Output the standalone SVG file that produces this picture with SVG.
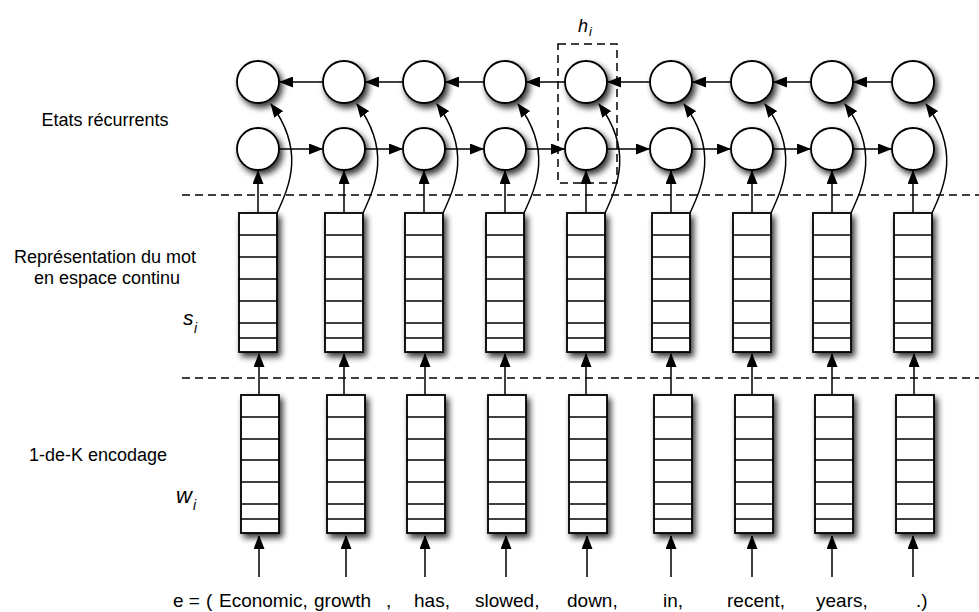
<svg xmlns="http://www.w3.org/2000/svg" xmlns:xlink="http://www.w3.org/1999/xlink" width="979" height="612" viewBox="0 0 979 612">
<style>
  .st { fill:#fff; stroke:#000; stroke-width:1.8; }
  .cell { fill:none; stroke:#000; stroke-width:1.5; }
  .ar { fill:none; stroke:#000; stroke-width:1.5; marker-end:url(#ah); }
  .dash { fill:none; stroke:#000; stroke-width:1.5; stroke-dasharray:8 5; }
  .lbl { font-family:"Liberation Sans", Arial, sans-serif; font-size:18px; fill:#000; }
  .it { font-family:"Liberation Sans", Arial, sans-serif; font-style:italic; fill:#000; }
  .words { font-family:"Liberation Sans", Arial, sans-serif; font-size:19px; fill:#000; }
</style>
<defs>
  <filter id="sh" x="-40%" y="-40%" width="180%" height="180%">
    <feGaussianBlur in="SourceAlpha" stdDeviation="3.2"/>
    <feOffset dx="3" dy="4" result="b"/>
    <feComponentTransfer in="b" result="s"><feFuncA type="linear" slope="0.8"/></feComponentTransfer>
    <feMerge><feMergeNode in="s"/><feMergeNode in="SourceGraphic"/></feMerge>
  </filter>
  <marker id="ah" viewBox="0 0 14 11" refX="13" refY="5.5" markerWidth="14" markerHeight="11" markerUnits="userSpaceOnUse" orient="auto">
    <path d="M0,0L14,5.5L0,11z" fill="#000"/>
  </marker>
  <g id="vecU">
    <rect class="st" x="-19" y="213" width="38" height="139"/>
    <path class="cell" d="M-19,235h38M-19,257h38M-19,279h38M-19,301h38M-19,323h38M-19,338h38"/>
  </g>
  <g id="vecL">
    <rect class="st" x="-17" y="395" width="38" height="138"/>
    <path class="cell" d="M-17,417h38M-17,439h38M-17,460h38M-17,482h38M-17,504h38M-17,519h38"/>
  </g>
  <circle id="node" class="st" r="21"/>
</defs>
<rect width="979" height="612" fill="#fff"/>

<g id="separators">
  <path class="dash" d="M182,195H979"/>
  <path class="dash" d="M182,378H979"/>
</g>

<g id="labels">
  <text class="lbl" x="105" y="126" text-anchor="middle">Etats récurrents</text>
  <text class="lbl" x="105" y="263" text-anchor="middle">Représentation du mot</text>
  <text class="lbl" x="107" y="284" text-anchor="middle">en espace continu</text>
  <text class="lbl" x="98" y="461" text-anchor="middle">1-de-K encodage</text>
  <text class="it" x="183" y="325" font-size="21">s<tspan x="194" y="333" font-size="14">i</tspan></text>
  <text class="it" x="176" y="503" font-size="22">w<tspan x="193" y="510" font-size="14">i</tspan></text>
  <text class="it" x="578" y="32" font-size="18">h<tspan x="589" y="36" font-size="13">i</tspan></text>
</g>

<g id="w1" filter="url(#sh)"><use xlink:href="#vecL" x="258"/></g>
<g id="w2" filter="url(#sh)"><use xlink:href="#vecL" x="344"/></g>
<g id="w3" filter="url(#sh)"><use xlink:href="#vecL" x="424"/></g>
<g id="w4" filter="url(#sh)"><use xlink:href="#vecL" x="505"/></g>
<g id="w5" filter="url(#sh)"><use xlink:href="#vecL" x="586"/></g>
<g id="w6" filter="url(#sh)"><use xlink:href="#vecL" x="671"/></g>
<g id="w7" filter="url(#sh)"><use xlink:href="#vecL" x="752"/></g>
<g id="w8" filter="url(#sh)"><use xlink:href="#vecL" x="832"/></g>
<g id="w9" filter="url(#sh)"><use xlink:href="#vecL" x="913"/></g>

<g id="s1" filter="url(#sh)"><use xlink:href="#vecU" x="258"/></g>
<g id="s2" filter="url(#sh)"><use xlink:href="#vecU" x="344"/></g>
<g id="s3" filter="url(#sh)"><use xlink:href="#vecU" x="424"/></g>
<g id="s4" filter="url(#sh)"><use xlink:href="#vecU" x="505"/></g>
<g id="s5" filter="url(#sh)"><use xlink:href="#vecU" x="586"/></g>
<g id="s6" filter="url(#sh)"><use xlink:href="#vecU" x="671"/></g>
<g id="s7" filter="url(#sh)"><use xlink:href="#vecU" x="752"/></g>
<g id="s8" filter="url(#sh)"><use xlink:href="#vecU" x="832"/></g>
<g id="s9" filter="url(#sh)"><use xlink:href="#vecU" x="913"/></g>

<g id="f1" filter="url(#sh)"><use xlink:href="#node" x="258" y="149"/></g>
<g id="f2" filter="url(#sh)"><use xlink:href="#node" x="344" y="149"/></g>
<g id="f3" filter="url(#sh)"><use xlink:href="#node" x="424" y="149"/></g>
<g id="f4" filter="url(#sh)"><use xlink:href="#node" x="505" y="149"/></g>
<g id="f5" filter="url(#sh)"><use xlink:href="#node" x="586" y="149"/></g>
<g id="f6" filter="url(#sh)"><use xlink:href="#node" x="671" y="149"/></g>
<g id="f7" filter="url(#sh)"><use xlink:href="#node" x="752" y="149"/></g>
<g id="f8" filter="url(#sh)"><use xlink:href="#node" x="832" y="149"/></g>
<g id="f9" filter="url(#sh)"><use xlink:href="#node" x="913" y="149"/></g>

<g id="b1" filter="url(#sh)"><use xlink:href="#node" x="258" y="82"/></g>
<g id="b2" filter="url(#sh)"><use xlink:href="#node" x="344" y="82"/></g>
<g id="b3" filter="url(#sh)"><use xlink:href="#node" x="424" y="82"/></g>
<g id="b4" filter="url(#sh)"><use xlink:href="#node" x="505" y="82"/></g>
<g id="b5" filter="url(#sh)"><use xlink:href="#node" x="586" y="82"/></g>
<g id="b6" filter="url(#sh)"><use xlink:href="#node" x="671" y="82"/></g>
<g id="b7" filter="url(#sh)"><use xlink:href="#node" x="752" y="82"/></g>
<g id="b8" filter="url(#sh)"><use xlink:href="#node" x="832" y="82"/></g>
<g id="b9" filter="url(#sh)"><use xlink:href="#node" x="913" y="82"/></g>

<g id="hbox"><rect class="dash" x="558" y="44" width="59" height="139"/></g>

<g id="connectors">
  <path class="ar" d="M259,577V536"/><path class="ar" d="M346,577V536"/><path class="ar" d="M425,577V536"/>
  <path class="ar" d="M506,577V536"/><path class="ar" d="M587,577V536"/><path class="ar" d="M671,577V536"/>
  <path class="ar" d="M752,577V536"/><path class="ar" d="M832,577V536"/><path class="ar" d="M913,577V536"/>
  <path class="ar" d="M259,395V354"/><path class="ar" d="M344,395V354"/><path class="ar" d="M425,395V354"/>
  <path class="ar" d="M505,395V354"/><path class="ar" d="M586,395V354"/><path class="ar" d="M671,395V354"/>
  <path class="ar" d="M752,395V354"/><path class="ar" d="M832,395V354"/><path class="ar" d="M914,395V354"/>
  <path class="ar" d="M258,213V171"/><path class="ar" d="M344,213V171"/><path class="ar" d="M424,213V171"/>
  <path class="ar" d="M505,213V171"/><path class="ar" d="M586,213V171"/><path class="ar" d="M671,213V171"/>
  <path class="ar" d="M752,213V171"/><path class="ar" d="M832,213V171"/><path class="ar" d="M913,213V171"/>
  <path class="ar" d="M277,213C290,185 305,150 271,104"/>
  <path class="ar" d="M363,213C376,185 391,150 357,104"/>
  <path class="ar" d="M443,213C456,185 471,150 437,104"/>
  <path class="ar" d="M524,213C537,185 552,150 518,104"/>
  <path class="ar" d="M605,213C618,185 633,150 599,104"/>
  <path class="ar" d="M690,213C703,185 718,150 684,104"/>
  <path class="ar" d="M771,213C784,185 799,150 765,104"/>
  <path class="ar" d="M851,213C864,185 879,150 845,104"/>
  <path class="ar" d="M932,213C945,185 960,150 926,104"/>
  <path class="ar" d="M279,149H322"/><path class="ar" d="M365,149H402"/><path class="ar" d="M445,149H483"/>
  <path class="ar" d="M526,149H564"/><path class="ar" d="M607,149H649"/><path class="ar" d="M692,149H730"/>
  <path class="ar" d="M773,149H810"/><path class="ar" d="M853,149H891"/>
  <path class="ar" d="M892,82H854"/><path class="ar" d="M811,82H774"/><path class="ar" d="M731,82H693"/>
  <path class="ar" d="M650,82H608"/><path class="ar" d="M565,82H527"/><path class="ar" d="M484,82H446"/>
  <path class="ar" d="M403,82H366"/><path class="ar" d="M323,82H280"/>
</g>

<text class="words" y="607"><tspan x="173">e =</tspan><tspan x="206">(</tspan><tspan x="219">Economic,</tspan><tspan x="314">growth</tspan><tspan x="386">,</tspan><tspan x="414">has,</tspan><tspan x="475">slowed,</tspan><tspan x="567">down,</tspan><tspan x="663">in,</tspan><tspan x="727">recent,</tspan><tspan x="816">years,</tspan><tspan x="916">.)</tspan></text>
</svg>
